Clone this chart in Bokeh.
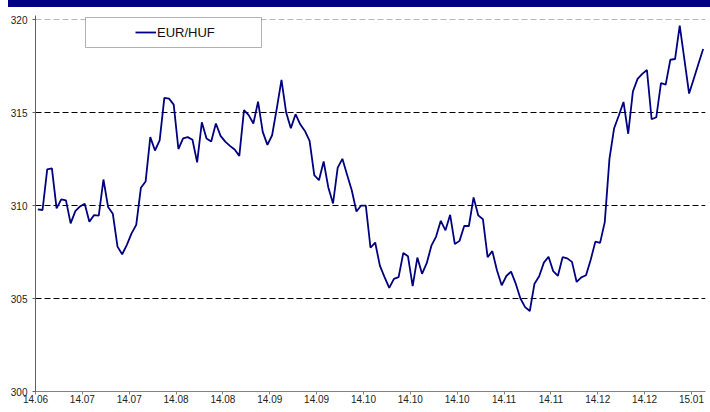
import numpy as np
from bokeh.plotting import figure
from bokeh.layouts import column
from bokeh.models import Range1d, FixedTicker, Grid, Legend, LegendItem, BoxAnnotation, Div
from bokeh.embed import file_html
from bokeh.resources import INLINE

series_name = "EUR/HUF"

eur_huf = [
    309.80, 309.76, 311.94, 312.00, 309.85, 310.33, 310.28, 309.04, 309.70, 309.95,
    310.10, 309.13, 309.49, 309.46, 311.40, 309.92, 309.56, 307.79, 307.38, 307.89,
    308.50, 308.96, 310.96, 311.29, 313.68, 312.96, 313.50, 315.79, 315.75, 315.43,
    313.04, 313.61, 313.68, 313.54, 312.32, 314.48, 313.60, 313.44, 314.41, 313.75,
    313.44, 313.21, 313.01, 312.67, 315.13, 314.86, 314.41, 315.59, 313.96, 313.26,
    313.78, 315.23, 316.76, 315.00, 314.16, 314.91, 314.37, 314.01, 313.48, 311.63,
    311.36, 312.37, 310.97, 310.11, 312.04, 312.51, 311.65, 310.82, 309.68, 310.00,
    310.00, 307.73, 308.01, 306.77, 306.15, 305.57, 306.06, 306.15, 307.45, 307.27,
    305.67, 307.20, 306.33, 306.90, 307.84, 308.33, 309.18, 308.67, 309.50, 307.93,
    308.10, 308.90, 308.90, 310.44, 309.47, 309.26, 307.22, 307.55, 306.51, 305.71,
    306.21, 306.45, 305.80, 305.00, 304.54, 304.33, 305.80, 306.20, 306.93, 307.25,
    306.47, 306.22, 307.22, 307.16, 306.97, 305.89, 306.14, 306.25, 307.09, 308.06,
    307.99, 309.11, 312.51, 314.16, 314.84, 315.57, 313.86, 316.13, 316.81, 317.08,
    317.29, 314.64, 314.75, 316.59, 316.50, 317.84, 317.88, 319.67, 317.85, 316.02,
    316.82, 317.62, 318.42,
]

tick_labels = ["14.06", "14.07", "14.07", "14.08", "14.08", "14.09", "14.09", "14.10",
               "14.10", "14.10", "14.11", "14.11", "14.12", "14.12", "15.01"]
label_every = 10

y_ticks = [300, 305, 310, 315, 320]
y_dashed_black = [305, 310, 315]
y_dashed_grey = [320]
y_top_pad = 0.22  # small headroom so the top grid line is not clipped

n = len(eur_huf)
x = [i + 0.5 for i in range(n)]
x_tick_pos = [i * label_every for i in range(len(tick_labels))]

FONT = "Liberation Sans"

p = figure(width=710, height=405, output_backend="svg", toolbar_location=None,
           x_range=Range1d(0, n), y_range=Range1d(y_ticks[0], y_ticks[-1] + y_top_pad),
           min_border_left=35, min_border_right=5, min_border_top=8, min_border_bottom=21)
p.outline_line_color = None
p.background_fill_color = "white"
p.border_fill_color = "white"

# x axis
p.xaxis.ticker = FixedTicker(ticks=x_tick_pos)
p.xaxis.major_label_overrides = {pos: lab for pos, lab in zip(x_tick_pos, tick_labels)}
p.xaxis.minor_tick_line_color = None
p.xaxis.major_tick_in = 0
p.xaxis.major_tick_out = 3
p.xaxis.major_label_standoff = 0
p.xaxis.axis_line_color = "#808080"
p.xaxis.major_tick_line_color = "#808080"
p.xaxis.major_label_text_font = FONT
p.xaxis.major_label_text_font_size = "10px"
p.xaxis.major_label_text_color = "#222222"

# y axis
p.yaxis.ticker = FixedTicker(ticks=y_ticks)
p.yaxis.minor_tick_line_color = None
p.yaxis.major_tick_in = 0
p.yaxis.major_tick_out = 3
p.yaxis.major_label_standoff = 5
p.yaxis.axis_line_color = "#606060"
p.yaxis.major_tick_line_color = "#606060"
p.yaxis.major_label_text_font = FONT
p.yaxis.major_label_text_font_size = "10px"
p.yaxis.major_label_text_color = "#222222"

# grids
p.xgrid.visible = False
p.ygrid.ticker = FixedTicker(ticks=y_dashed_black)
p.ygrid.grid_line_color = "black"
p.ygrid.grid_line_dash = "6 3"
p.ygrid.grid_line_width = 1
top_grid = Grid(dimension=1, ticker=FixedTicker(ticks=y_dashed_grey),
                grid_line_color="#b8b8b8", grid_line_dash="6 3", grid_line_width=1)
p.add_layout(top_grid)

r = p.line(x, eur_huf, line_color="#000080", line_width=1.8)

# legend frame
legend_box = BoxAnnotation(left=85, right=261, top=10, bottom=40,
                           left_units="canvas", right_units="canvas",
                           top_units="canvas", bottom_units="canvas",
                           fill_color="white", fill_alpha=1, line_color="black",
                           line_width=1, level="overlay")
p.add_layout(legend_box)

legend = Legend(items=[LegendItem(label=series_name, renderers=[r])],
                location=(100, 351), padding=0, margin=0, border_line_color=None,
                background_fill_alpha=0, glyph_width=21, glyph_height=16,
                label_height=16, label_standoff=1, label_text_font=FONT,
                label_text_font_size="13px", label_text_color="#111111")
p.add_layout(legend)

band = Div(text="", width=702, height=7, margin=(0, 0, 0, 8),
           styles={"background-color": "#000080"})

layout = column(band, p, spacing=0)

open("out.html", "w").write(file_html(layout, INLINE))
